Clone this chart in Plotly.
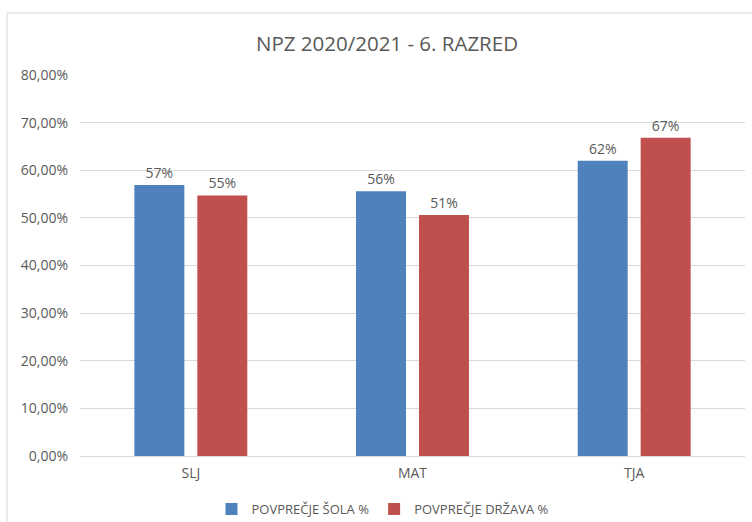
import plotly.graph_objects as go

categories = ["SLJ", "MAT", "TJA"]
sola = [0.569, 0.556, 0.620]
drzava = [0.547, 0.506, 0.668]
series_names = ["POVPREČJE ŠOLA %", "POVPREČJE DRŽAVA %"]
colors = ["#4F81BD", "#C0504D"]

FONT = "Open Sans, Arial, sans-serif"
TXT = "#595959"

fig = go.Figure()
for name, vals, col in zip(series_names, [sola, drzava], colors):
    fig.add_trace(go.Bar(
        x=categories, y=vals, name=name, marker_color=col,
        marker_line_width=0,
        texttemplate="%{y:.0%}", textposition="outside",
        textfont=dict(size=14, color=TXT, family=FONT),
        cliponaxis=False,
    ))

fig.update_layout(
    width=752, height=522,
    paper_bgcolor="white", plot_bgcolor="white",
    separators=",.",
    margin=dict(l=80, r=7, t=75, b=66, autoexpand=False),
    barmode="group", bargap=0.432, bargroupgap=0.206,
    title=dict(text="NPZ 2020/2021 - 6. RAZRED", x=387 / 752, xref="container",
               xanchor="center",
               y=1 - 44 / 522, yref="container", yanchor="middle",
               font=dict(size=20.5, color=TXT, family=FONT)),
    font=dict(family=FONT, color=TXT, size=13),
    legend=dict(orientation="h", x=0.4556, xanchor="center",
                y=1 - 509 / 522, yref="container", yanchor="middle",
                font=dict(size=13, color=TXT, family=FONT),
                itemwidth=30, traceorder="normal", bgcolor="rgba(0,0,0,0)"),
    yaxis=dict(range=[0, 0.8], dtick=0.1, tickformat=".2%",
               gridcolor="#D9D9D9", gridwidth=1, zeroline=False,
               showline=False, ticks="", ticklen=0, automargin=False,
               ticklabelstandoff=11,
               tickfont=dict(size=14, color=TXT, family=FONT)),
    xaxis=dict(showline=True, linecolor="#D9D9D9", linewidth=1, ticks="",
               automargin=False, ticklabelstandoff=4,
               tickfont=dict(size=14, color=TXT, family=FONT)),
    shapes=[
        dict(type="line", xref="paper", yref="paper", x0=-0.1096, x1=-0.1096,
             y0=1.1627, y1=-0.3, line=dict(color="#D9D9D9", width=1)),
        dict(type="line", xref="paper", yref="paper", x0=-0.1096, x1=1.1,
             y0=1.1627, y1=1.1627, line=dict(color="#D9D9D9", width=1)),
    ],
)

fig.write_html("out.html", config={"displayModeBar": False},
               post_script="document.body.style.margin='0';document.body.style.overflow='hidden';")
